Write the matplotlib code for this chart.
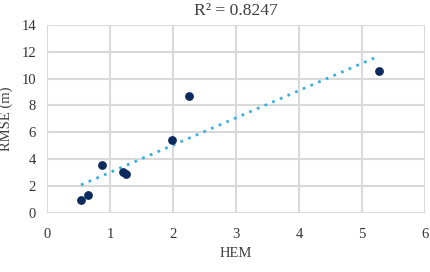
import matplotlib.pyplot as plt
import numpy as np

hem = [0.54, 0.65, 0.88, 1.20, 1.26, 1.99, 2.26, 5.27]
rmse = [0.92, 1.30, 3.56, 3.04, 2.86, 5.45, 8.68, 10.55]
r2_text = 'R² = 0.8247'

plt.rcParams['font.family'] = ['Liberation Serif', 'DejaVu Serif']
plt.rcParams['font.size'] = 10.5

fig = plt.figure(figsize=(4.31, 2.72), dpi=100)
ax = fig.add_axes([0.109, 0.218, 0.877, 0.690])

x = np.array(hem)
y = np.array(rmse)
m, b = np.polyfit(x, y, 1)
xt = np.array([x.min(), x.max()])
ax.plot(xt, m * xt + b, ls=(0, (1, 2)), c='#3ab0e0', lw=2, zorder=2)
ax.scatter(x, y, s=28, c='#0b2a5e', zorder=3)

ax.set_xlim(0, 6)
ax.set_ylim(0, 14)
ax.set_xticks(range(0, 7))
ax.set_yticks(range(0, 15, 2))
ax.grid(True, color='#d9d9d9', lw=1.5)
ax.set_axisbelow(True)
for s in ax.spines.values():
    s.set_visible(False)
ax.tick_params(length=0, colors='#333333')
ax.tick_params(axis='x', pad=11)
ax.tick_params(axis='y', pad=8)
ax.set_xlabel('HEM', color='#404040', labelpad=4)
ax.set_ylabel('RMSE (m)', color='#404040', labelpad=6)
ax.set_title(r2_text, color='#404040', pad=7)

fig.savefig('out.png', dpi=100)
